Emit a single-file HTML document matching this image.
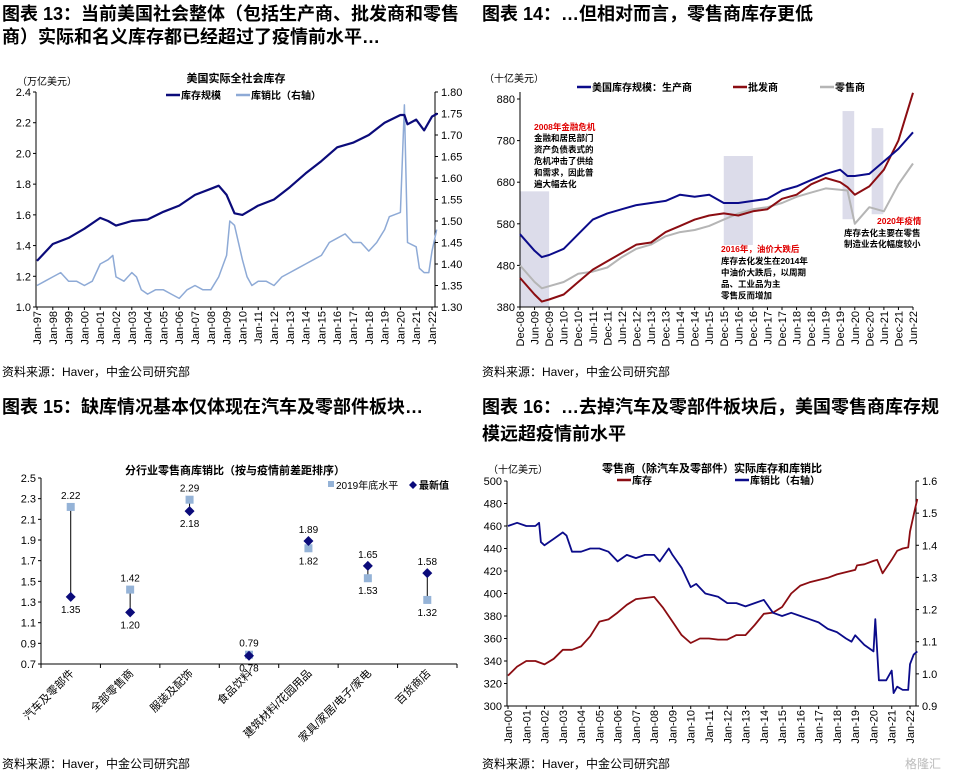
<!DOCTYPE html>
<html><head><meta charset="utf-8"><style>
body{margin:0;background:#fff;}
svg{display:block;font-family:"Liberation Sans","Noto Sans CJK SC",sans-serif;}
.t{font-size:18px;font-weight:bold;fill:#000;}
.src{font-size:12px;fill:#000;}
.ax{font-size:11px;fill:#000;}
</style></head><body>
<svg id="s" width="960" height="776" viewBox="0 0 960 776">
<rect width="960" height="776" fill="#fff"/>
<text class="t" x="2" y="20">图表 13：当前美国社会整体（包括生产商、批发商和零售</text>
<text class="t" x="2" y="43">商）实际和名义库存都已经超过了疫情前水平…</text>
<text class="t" x="482" y="20">图表 14：…但相对而言，零售商库存更低</text>
<text class="t" x="2" y="413">图表 15：缺库情况基本仅体现在汽车及零部件板块…</text>
<text class="t" x="482" y="413">图表 16：…去掉汽车及零部件板块后，美国零售商库存规</text>
<text class="t" x="482" y="440">模远超疫情前水平</text>
<text class="src" x="2" y="376">资料来源：Haver，中金公司研究部</text>
<text class="src" x="482" y="376">资料来源：Haver，中金公司研究部</text>
<text class="src" x="2" y="768">资料来源：Haver，中金公司研究部</text>
<text class="src" x="482" y="768">资料来源：Haver，中金公司研究部</text>
<g id="c1"></g>
<g id="c2"></g>
<g id="c3"></g>
<g id="c4"></g>
<text x="905" y="768" font-size="12" fill="#bbb">格隆汇</text>
</svg>
<script>
// ---- Chart 13 data ----
const c1InvDates=[1997,1998,1999,2000,2001,2001.5,2002,2003,2004,2005,2006,2007,2008,2008.5,2009,2009.5,2010,2011,2012,2013,2014,2015,2016,2017,2018,2019,2020,2020.25,2020.45,2021,2021.5,2022,2022.35];
const c1Inv=[1.30,1.41,1.45,1.51,1.58,1.56,1.53,1.56,1.57,1.62,1.66,1.73,1.77,1.79,1.73,1.61,1.60,1.66,1.70,1.78,1.87,1.95,2.04,2.07,2.12,2.20,2.25,2.25,2.19,2.22,2.15,2.24,2.26];
const c1RatioDates=[1997,1997.5,1998,1998.5,1999,1999.5,2000,2000.5,2001,2001.5,2001.8,2002,2002.5,2003,2003.3,2003.6,2004,2004.5,2005,2005.5,2006,2006.5,2007,2007.5,2008,2008.5,2009,2009.2,2009.5,2010,2010.3,2010.6,2011,2011.5,2012,2012.5,2013,2013.5,2014,2014.5,2015,2015.5,2016,2016.5,2017,2017.5,2018,2018.5,2019,2019.3,2020,2020.25,2020.45,2021,2021.2,2021.5,2021.8,2022,2022.3];
const c1Ratio=[1.35,1.36,1.37,1.38,1.36,1.36,1.35,1.36,1.40,1.41,1.42,1.37,1.36,1.38,1.37,1.34,1.33,1.34,1.34,1.33,1.32,1.34,1.35,1.34,1.34,1.37,1.42,1.50,1.49,1.41,1.37,1.35,1.36,1.36,1.35,1.37,1.38,1.39,1.40,1.41,1.42,1.45,1.46,1.47,1.45,1.45,1.43,1.45,1.48,1.51,1.52,1.77,1.45,1.44,1.39,1.38,1.38,1.43,1.48];
const c1LeftTicks=[1.0,1.2,1.4,1.6,1.8,2.0,2.2,2.4];
const c1RightTicks=[1.30,1.35,1.40,1.45,1.50,1.55,1.60,1.65,1.70,1.75,1.80];
const c1XLabels=['Jan-97','Jan-98','Jan-99','Jan-00','Jan-01','Jan-02','Jan-03','Jan-04','Jan-05','Jan-06','Jan-07','Jan-08','Jan-09','Jan-10','Jan-11','Jan-12','Jan-13','Jan-14','Jan-15','Jan-16','Jan-17','Jan-18','Jan-19','Jan-20','Jan-21','Jan-22'];
// ---- Chart 14 data ----
const c2Dates=[2008.92,2009.42,2009.67,2009.92,2010.42,2010.92,2011.42,2011.92,2012.42,2012.92,2013.42,2013.92,2014.42,2014.92,2015.42,2015.92,2016.42,2016.92,2017.42,2017.92,2018.42,2018.92,2019.42,2019.92,2020.17,2020.42,2020.92,2021.42,2021.92,2022.42];
const c2Prod=[555,515,500,505,520,555,590,605,615,625,630,635,650,645,650,630,630,635,640,660,670,685,700,710,695,695,700,730,760,800];
const c2Whole=[450,410,393,398,410,440,470,490,510,530,535,560,575,590,600,605,600,610,615,640,650,675,690,680,668,650,670,710,780,895];
const c2Retail=[480,440,425,430,440,460,465,475,500,520,530,550,560,565,575,590,605,615,620,630,645,655,665,662,660,580,620,610,675,725];
const c2ShadeStart=[2008.92,2015.92,2020.0,2021.0];
const c2ShadeEnd=[2009.92,2016.92,2020.4,2021.4];
const c2ShadeLow=[380,529,591,603];
const c2ShadeHigh=[658,743,851,810];
const c2Ticks=[380,480,580,680,780,880];
const c2XLabels=['Dec-08','Jun-09','Dec-09','Jun-10','Dec-10','Jun-11','Dec-11','Jun-12','Dec-12','Jun-13','Dec-13','Jun-14','Dec-14','Jun-15','Dec-15','Jun-16','Dec-16','Jun-17','Dec-17','Jun-18','Dec-18','Jun-19','Dec-19','Jun-20','Dec-20','Jun-21','Dec-21','Jun-22'];
// ---- Chart 15 data ----
const c3Cats=['汽车及零部件','全部零售商','服装及配饰','食品饮料','建筑材料/花园用品','家具/家居/电子/家电','百货商店'];
const c3Prev=[2.22,1.42,2.29,0.79,1.82,1.53,1.32];
const c3Latest=[1.35,1.20,2.18,0.78,1.89,1.65,1.58];
const c3Ticks=[0.7,0.9,1.1,1.3,1.5,1.7,1.9,2.1,2.3,2.5];
// ---- Chart 16 data ----
const c4InvDates=[2000,2000.5,2001,2001.5,2002,2002.5,2003,2003.5,2004,2004.5,2005,2005.5,2006,2006.5,2007,2007.5,2008,2008.5,2009,2009.5,2010,2010.5,2011,2011.5,2012,2012.5,2013,2013.5,2014,2014.5,2015,2015.5,2016,2016.5,2017,2017.5,2018,2018.5,2019,2019.1,2019.5,2020,2020.2,2020.5,2021,2021.3,2021.6,2021.9,2022,2022.2,2022.4];
const c4Inv=[327,335,340,340,337,342,350,350,353,362,375,377,383,390,395,396,397,387,375,363,356,360,360,359,359,363,363,372,382,383,388,400,407,410,412,414,417,419,421,425,426,429,430,418,430,438,440,441,455,470,484];
const c4RatioDates=[2000,2000.5,2001,2001.5,2001.7,2001.8,2002,2002.5,2003,2003.2,2003.5,2004,2004.5,2005,2005.5,2006,2006.5,2007,2007.5,2008,2008.3,2008.8,2009,2009.5,2010,2010.3,2010.8,2011.5,2012,2012.5,2013,2013.5,2014,2014.5,2015,2015.5,2016,2016.5,2017,2017.5,2018,2018.5,2018.8,2019,2019.5,2020,2020.1,2020.3,2020.7,2021,2021.1,2021.3,2021.6,2021.9,2022,2022.2,2022.4];
const c4Ratio=[1.46,1.47,1.46,1.46,1.47,1.41,1.40,1.42,1.44,1.43,1.38,1.38,1.39,1.39,1.38,1.35,1.37,1.36,1.37,1.37,1.35,1.39,1.37,1.33,1.27,1.28,1.25,1.24,1.22,1.22,1.21,1.22,1.23,1.19,1.18,1.19,1.18,1.17,1.16,1.14,1.13,1.11,1.10,1.12,1.09,1.07,1.17,0.98,0.98,1.01,0.94,0.96,0.95,0.95,1.03,1.06,1.07];
const c4LeftTicks=[300,320,340,360,380,400,420,440,460,480,500];
const c4RightTicks=[0.9,1.0,1.1,1.2,1.3,1.4,1.5,1.6];
const c4XLabels=['Jan-00','Jan-01','Jan-02','Jan-03','Jan-04','Jan-05','Jan-06','Jan-07','Jan-08','Jan-09','Jan-10','Jan-11','Jan-12','Jan-13','Jan-14','Jan-15','Jan-16','Jan-17','Jan-18','Jan-19','Jan-20','Jan-21','Jan-22'];

const NS='http://www.w3.org/2000/svg';
function mk(parent,tag,attrs,txt){const e=document.createElementNS(NS,tag);for(const k in attrs)e.setAttribute(k,attrs[k]);if(txt!==undefined)e.textContent=txt;parent.appendChild(e);return e;}
function lin(d0,d1,r0,r1){return v=>r0+(v-d0)/(d1-d0)*(r1-r0);}
function path(xs,ys,fx,fy){return xs.map((x,i)=>(i?'L':'M')+fx(x).toFixed(1)+','+fy(ys[i]).toFixed(1)).join('');}
function axes(g,x0,x1,y0,y1,right){
  let a=mk(g,'line',{x1:x0,y1:y0,x2:x0,y2:y1,stroke:'#000','stroke-width':1});
  
  a=mk(g,'line',{x1:x0,y1:y1,x2:x1,y2:y1,stroke:'#000','stroke-width':1});
  
  if(right){a=mk(g,'line',{x1:x1,y1:y0,x2:x1,y2:y1,stroke:'#000','stroke-width':1});
  }
}
function yTicks(g,ticks,fy,x,side,dec,name){
  ticks.forEach(t=>{const yy=fy(t);
    const l=mk(g,'line',{x1:x,y1:yy,x2:x+(side==='l'?-3:3),y2:yy,stroke:'#000'});
    
    const tx=mk(g,'text',{class:'ax',x:side==='l'?x-5:x+6,y:yy+4,'text-anchor':side==='l'?'end':'start'},t.toFixed(dec));
    });
}
function xTicks(g,labels,vals,fx,y){
  labels.forEach((lb,i)=>{const xx=fx(vals[i]);
    const l=mk(g,'line',{x1:xx,y1:y,x2:xx,y2:y+3,stroke:'#000'});
    
    const tx=mk(g,'text',{class:'ax',x:xx+4,y:y+4,'text-anchor':'end',transform:`rotate(-90 ${xx+4} ${y+4})`},lb);
    });
}
function txt(g,x,y,s,o,name){const t=mk(g,'text',Object.assign({x:x,y:y,'font-size':10},o||{}),s);return t;}
function leg(g,x,y,color,w,label,name){const l=mk(g,'line',{x1:x,y1:y,x2:x+14,y2:y,stroke:color,'stroke-width':w});
  
  txt(g,x+15,y+4,label,{'font-size':10,'font-weight':'bold'},name+'-label');}
function series(g,xs,ys,fx,fy,color,w,name){const p=mk(g,'path',{d:path(xs,ys,fx,fy),fill:'none',stroke:color,'stroke-width':w,'stroke-linejoin':'round'});
  }

// Chart 13
(function(){const g=document.getElementById('c1');
const X0=36,X1=435,Y0=92,Y1=307;
const fx=lin(1997,2022,37,432),fyL=lin(1.0,2.4,Y1,Y0),fyR=lin(1.30,1.80,Y1,Y0);
axes(g,X0,X1,Y0,Y1,true);
yTicks(g,c1LeftTicks,fyL,X0,'l',1,'left-axis');
yTicks(g,c1RightTicks,fyR,X1,'r',2,'right-axis');
xTicks(g,c1XLabels,c1XLabels.map((_,i)=>1997+i),fx,Y1);
series(g,c1RatioDates,c1Ratio,fx,fyR,'#8eaad6',1.5,'ratio-line');
series(g,c1InvDates,c1Inv,fx,fyL,'#0b0b7a',2.2,'inventory-line');
txt(g,236,82,'美国实际全社会库存',{'font-weight':'bold','text-anchor':'middle','font-size':11},'chart-title');
txt(g,17,85,'（万亿美元）',{},'y-unit');
leg(g,166,95,'#0b0b7a',2.5,'库存规模','legend-inventory');
leg(g,236,95,'#8eaad6',2.5,'库销比（右轴）','legend-ratio');
})();

// Chart 14
(function(){const g=document.getElementById('c2');
const X0=520,X1=913,Y0=92,Y1=307;
const fx=lin(2008.92,2022.42,520,913),fy=lin(380,880,307,99);
c2ShadeStart.forEach((s,i)=>{const r=mk(g,'rect',{x:fx(s),y:fy(c2ShadeHigh[i]),width:fx(c2ShadeEnd[i])-fx(s),height:fy(c2ShadeLow[i])-fy(c2ShadeHigh[i]),fill:'#dcdcea'});
  });
axes(g,X0,X1,Y0,Y1,false);
yTicks(g,c2Ticks,fy,X0,'l',0,'left-axis');
xTicks(g,c2XLabels,c2XLabels.map((_,i)=>2008.92+i*0.5),fx,Y1);
series(g,c2Dates,c2Retail,fx,fy,'#b5b5b5',2,'retail-line');
series(g,c2Dates,c2Whole,fx,fy,'#8b0d12',2,'wholesale-line');
series(g,c2Dates,c2Prod,fx,fy,'#0b0b8a',2,'producer-line');
txt(g,484,82,'（十亿美元）',{},'y-unit');
leg(g,577,87,'#0b0b8a',2.5,'美国库存规模：生产商','legend-producer');
leg(g,733,87,'#8b0d12',2.5,'批发商','legend-wholesale');
leg(g,820,87,'#b5b5b5',2.5,'零售商','legend-retail');
const A={'font-size':8.5,'font-weight':'bold'};
txt(g,534,130,'2008年金融危机',Object.assign({fill:'#e00000'},A),'annotation-2008-title');
['金融和居民部门','资产负债表式的','危机冲击了供给','和需求，因此普','遍大幅去化'].forEach((s,i)=>txt(g,534,141+i*11.5,s,A,'annotation-2008-text'));
txt(g,721,252,'2016年，油价大跌后',Object.assign({fill:'#e00000'},A),'annotation-2016-title');
['库存去化发生在2014年','中油价大跌后，以周期','品、工业品为主','零售反而增加'].forEach((s,i)=>txt(g,721,264+i*11.5,s,A,'annotation-2016-text'));
txt(g,877,224,'2020年疫情',Object.assign({fill:'#e00000'},A),'annotation-2020-title');
txt(g,844,236,'库存去化主要在零售',A,'annotation-2020-text');
txt(g,844,247,'制造业去化幅度较小',A,'annotation-2020-text');
})();

// Chart 15
(function(){const g=document.getElementById('c3');
const X0=41,X1=457,Y0=478,Y1=664;
const fy=lin(0.7,2.5,Y1,Y0);const cw=(X1-X0)/c3Cats.length;
const cx=i=>X0+cw*(i+0.5);
axes(g,X0,X1,Y0,Y1,false);
yTicks(g,c3Ticks,fy,X0,'l',1,'left-axis');
for(let i=0;i<=c3Cats.length;i++){const l=mk(g,'line',{x1:X0+cw*i,y1:Y1,x2:X0+cw*i,y2:Y1+4,stroke:'#000'});
  }
c3Cats.forEach((c,i)=>{const x=cx(i);
  const ln=mk(g,'line',{x1:x,y1:fy(c3Prev[i]),x2:x,y2:fy(c3Latest[i]),stroke:'#000','stroke-width':1});
  
  const r=mk(g,'rect',{x:x-4,y:fy(c3Prev[i])-4,width:8,height:8,fill:'#95b3d7'});
  
  const yl=fy(c3Latest[i]);
  const d=mk(g,'path',{d:`M${x},${yl-5}L${x+5},${yl}L${x},${yl+5}L${x-5},${yl}Z`,fill:'#0b0b7a'});
  
  const hi=Math.max(c3Prev[i],c3Latest[i]),lo=Math.min(c3Prev[i],c3Latest[i]);
  const hiV=c3Prev[i]>=c3Latest[i]?c3Prev[i]:c3Latest[i],loV=c3Prev[i]>=c3Latest[i]?c3Latest[i]:c3Prev[i];
  txt(g,x,fy(hi)-8,hiV.toFixed(2),{'text-anchor':'middle'},'value-label-upper');
  txt(g,x,fy(lo)+16,loV.toFixed(2),{'text-anchor':'middle'},'value-label-lower');
  txt(g,x+4,Y1+10,c,{'text-anchor':'end','font-size':11,transform:`rotate(-45 ${x+4} ${Y1+10})`},'category-label');
});
txt(g,235,474,'分行业零售商库销比（按与疫情前差距排序）',{'text-anchor':'middle','font-weight':'bold','font-size':11},'chart-title');
const ls=mk(g,'rect',{x:328,y:481,width:6,height:6,fill:'#95b3d7'});

txt(g,336,489,'2019年底水平',{},'legend-prev-label');
const ld=mk(g,'path',{d:'M413,481L417,485L413,489L409,485Z',fill:'#0b0b7a'});

txt(g,419,489,'最新值',{'font-weight':'bold'},'legend-latest-label');
})();

// Chart 16
(function(){const g=document.getElementById('c4');
const X0=507,X1=916,Y0=481,Y1=706;
const fx=lin(2000,2022,508,910),fyL=lin(300,500,Y1,Y0),fyR=lin(0.9,1.6,Y1,Y0);
axes(g,X0,X1,Y0,Y1,true);
yTicks(g,c4LeftTicks,fyL,X0,'l',0,'left-axis');
yTicks(g,c4RightTicks,fyR,X1,'r',1,'right-axis');
xTicks(g,c4XLabels,c4XLabels.map((_,i)=>2000+i),fx,Y1);
series(g,c4InvDates,c4Inv,fx,fyL,'#8b0d12',1.8,'inventory-line');
series(g,c4RatioDates,c4Ratio,fx,fyR,'#0b0b8a',1.8,'ratio-line');
txt(g,712,472,'零售商（除汽车及零部件）实际库存和库销比',{'text-anchor':'middle','font-weight':'bold','font-size':11},'chart-title');
txt(g,488,473,'（十亿美元）',{},'y-unit');
leg(g,617,480,'#8b0d12',2.5,'库存','legend-inventory');
leg(g,735,480,'#0b0b8a',2.5,'库销比（右轴）','legend-ratio');
})();
</script>
</body></html>
